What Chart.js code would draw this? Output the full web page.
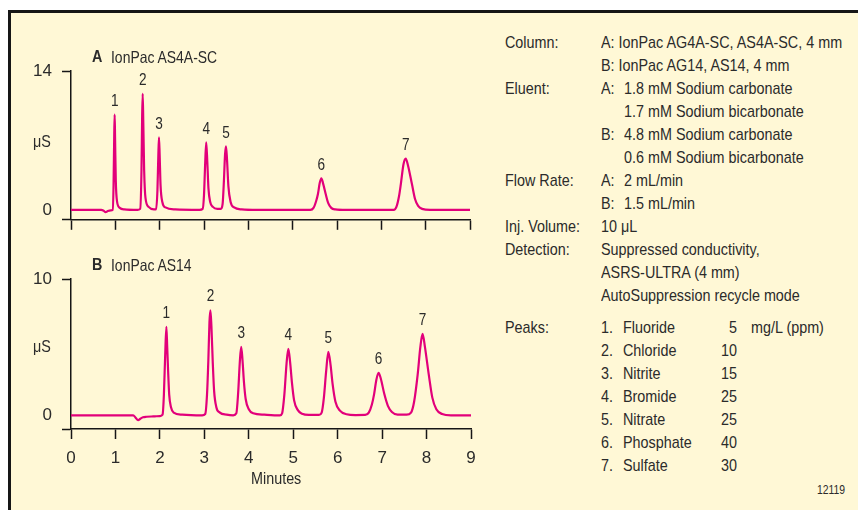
<!DOCTYPE html>
<html>
<head>
<meta charset="utf-8">
<script src="https://cdn.jsdelivr.net/npm/chart.js@4.4.1/dist/chart.umd.min.js"></script>
<style>
  html, body { margin: 0; padding: 0; background: #fff; }
  body { position: relative; width: 858px; height: 510px; overflow: hidden;
         font-family: 'Liberation Sans', Arial, sans-serif; color: #2b2b2b; }
  #frame { position: absolute; left: 8px; top: 10px; width: 900px; height: 560px; box-sizing: border-box;
           border-left: 3px solid #161616; border-top: 3px solid #161616; background: #fff8d6; }
  canvas { position: absolute; left: 0; }
  /* narrow look: regular sans squeezed sideways */
  .t { position: absolute; font-size: 17px; line-height: 20px; white-space: nowrap;
       transform: scaleX(0.845); transform-origin: 0 0; }
  .r { transform-origin: 100% 0; text-align: right; }
  .b { font-weight: bold; }
</style>
</head>
<body>
<div id="frame"></div>

<canvas id="chartA" width="500" height="240" style="top:0"></canvas>
<canvas id="chartB" width="500" height="270" style="top:240px"></canvas>

<!-- left side labels -->
<div class="t b" style="left:92px;top:47px">A</div>
<div class="t" style="left:111px;top:47px;font-size:16.5px">IonPac AS4A-SC</div>
<div class="t b" style="left:92px;top:255px">B</div>
<div class="t" style="left:111px;top:255px;font-size:16.5px">IonPac AS14</div>
<div class="t" style="left:33px;top:132px">&mu;S</div>
<div class="t" style="left:33px;top:337px">&mu;S</div>
<div class="t" style="left:251px;top:469px">Minutes</div>

<!-- conditions -->
<div class="t" style="left:505px;top:33px">Column:</div>
<div class="t" style="left:601px;top:33px">A: IonPac AG4A-SC, AS4A-SC, 4 mm</div>
<div class="t" style="left:601px;top:56px">B: IonPac AG14, AS14, 4 mm</div>
<div class="t" style="left:505px;top:79px">Eluent:</div>
<div class="t" style="left:601px;top:79px">A:</div>
<div class="t" style="left:624px;top:79px">1.8 mM Sodium carbonate</div>
<div class="t" style="left:624px;top:102px">1.7 mM Sodium bicarbonate</div>
<div class="t" style="left:601px;top:125px">B:</div>
<div class="t" style="left:624px;top:125px">4.8 mM Sodium carbonate</div>
<div class="t" style="left:624px;top:148px">0.6 mM Sodium bicarbonate</div>
<div class="t" style="left:505px;top:171px">Flow Rate:</div>
<div class="t" style="left:601px;top:171px">A:</div>
<div class="t" style="left:624px;top:171px">2 mL/min</div>
<div class="t" style="left:601px;top:194px">B:</div>
<div class="t" style="left:624px;top:194px">1.5 mL/min</div>
<div class="t" style="left:505px;top:217px">Inj. Volume:</div>
<div class="t" style="left:601px;top:217px">10 &mu;L</div>
<div class="t" style="left:505px;top:240px">Detection:</div>
<div class="t" style="left:601px;top:240px">Suppressed conductivity,</div>
<div class="t" style="left:601px;top:263px">ASRS-ULTRA (4 mm)</div>
<div class="t" style="left:601px;top:286px">AutoSuppression recycle mode</div>

<div class="t" style="left:505px;top:318px">Peaks:</div>
<div id="peakList"></div>
<div class="t" style="left:817px;top:480px;font-size:12.3px">12119</div>

<script>
// x axis (minutes)
const xTicks = [0, 1, 2, 3, 4, 5, 6, 7, 8, 9];

// peaks
const peakNumbers = ['1', '2', '3', '4', '5', '6', '7'];
const peakNames = ['Fluoride', 'Chloride', 'Nitrite', 'Bromide', 'Nitrate', 'Phosphate', 'Sulfate'];
const peakConc = [5, 10, 15, 25, 25, 40, 30];

// chromatogram A - IonPac AS4A-SC
const yTicksA = [0, 14];
const timesA = [0, 0.68, 0.74, 0.78, 0.83, 0.9, 0.94, 0.96, 0.975, 0.985, 0.995, 1.01, 1.04, 1.1, 1.2,
    1.5, 1.56, 1.59, 1.605, 1.617, 1.63, 1.65, 1.68, 1.75, 1.87,
    1.92, 1.95, 1.97, 1.985, 2.0, 2.02, 2.06, 2.13, 2.35,
    2.9, 2.97, 3.0, 3.025, 3.05, 3.075, 3.1, 3.14, 3.2, 3.3,
    3.38, 3.42, 3.45, 3.475, 3.497, 3.52, 3.55, 3.6, 3.68, 3.85,
    4.2, 5.4, 5.47, 5.53, 5.57, 5.61, 5.647, 5.69, 5.745, 5.8, 5.87, 5.96,
    6.2, 7.28, 7.34, 7.4, 7.44, 7.5, 7.55, 7.6, 7.69, 7.76, 7.83, 7.92, 8.1, 9];
const signalA = [0, 0, -0.1, -0.23, -0.12, -0.05, 0, 2.5, 7.5, 9.6, 7, 3, 0.8, 0.2, 0.05,
    0, 0.1, 4, 9.5, 11.7, 9, 4, 1.2, 0.3, 0.05,
    0.05, 2, 5.5, 7.3, 5.5, 2.5, 0.8, 0.25, 0.05,
    0, 0.1, 1.5, 4.5, 6.8, 4.8, 2.2, 0.8, 0.3, 0.1,
    0.1, 0.6, 3, 5.6, 6.4, 5, 2.4, 0.8, 0.25, 0.05,
    0, 0, 0.2, 0.9, 1.6, 2.7, 3.18, 2.6, 1.6, 0.7, 0.2, 0.05,
    0, 0, 0.3, 1.4, 2.6, 4.6, 5.16, 4.5, 2.6, 1.1, 0.4, 0.1, 0, 0];
const peakTimesA = [0.985, 1.617, 1.985, 3.05, 3.497, 5.647, 7.55];
const peakHeightsA = [9.6, 11.7, 7.3, 6.8, 6.4, 3.18, 5.16];

// chromatogram B - IonPac AS14
const yTicksB = [0, 10];
const timesB = [0, 1.4, 1.45, 1.51, 1.56, 1.62, 1.7, 1.85, 2.0,
    2.06, 2.09, 2.12, 2.146, 2.165, 2.185, 2.21, 2.25, 2.31, 2.5,
    2.95, 3.02, 3.06, 3.09, 3.115, 3.137, 3.16, 3.19, 3.22, 3.27, 3.35, 3.5,
    3.65, 3.72, 3.76, 3.8, 3.83, 3.86, 3.89, 3.93, 4.0, 4.1, 4.35,
    4.7, 4.75, 4.8, 4.85, 4.89, 4.93, 4.97, 5.02, 5.1, 5.2, 5.35,
    5.58, 5.64, 5.69, 5.74, 5.79, 5.84, 5.885, 5.95, 6.05, 6.2, 6.4,
    6.62, 6.7, 6.77, 6.82, 6.87, 6.92, 6.97, 7.05, 7.13, 7.22, 7.35,
    7.55, 7.65, 7.72, 7.8, 7.86, 7.91, 7.96, 8.05, 8.13, 8.22, 8.35, 8.55, 9];
const signalB = [0, 0, -0.15, -0.36, -0.25, -0.14, -0.1, -0.08, -0.05,
    0.05, 1.5, 4.5, 6.5, 5, 3.25, 1.5, 0.6, 0.2, 0.05,
    0, 0.1, 1.5, 4, 6.8, 7.7, 6.5, 3.85, 1.8, 0.6, 0.2, 0.05,
    0, 0.15, 1.6, 4, 5.02, 4, 2.5, 1.2, 0.45, 0.15, 0.05,
    0, 0.15, 1.5, 3.8, 4.88, 3.9, 2.44, 1.1, 0.4, 0.12, 0.03,
    0.03, 0.2, 1.3, 3.2, 4.66, 3.7, 2.33, 1.0, 0.35, 0.08, 0.02,
    0.03, 0.2, 0.8, 1.56, 2.6, 3.12, 2.7, 1.56, 0.7, 0.25, 0.06,
    0.05, 0.2, 1.0, 2.99, 5.0, 5.98, 5.1, 2.99, 1.3, 0.45, 0.1, 0, 0];
const peakTimesB = [2.146, 3.137, 3.83, 4.89, 5.79, 6.92, 7.91];
const peakHeightsB = [6.5, 7.7, 5.02, 4.88, 4.66, 3.12, 5.98];

const FONT = "'Liberation Sans', Arial, sans-serif";
const textColor = '#2b2b2b';
const axisColor = '#161616';
const traceColor = '#e2007a';

Chart.defaults.font.family = FONT;
Chart.defaults.color = textColor;

// peak list on the right
const peakList = document.getElementById('peakList');
peakNumbers.forEach((n, i) => {
    const top = 318 + i * 23;
    peakList.innerHTML +=
        `<div class="t" style="left:601px;top:${top}px">${n}.</div>
         <div class="t" style="left:623px;top:${top}px">${peakNames[i]}</div>
         <div class="t r" style="left:687px;top:${top}px;width:50px">${peakConc[i]}</div>`;
});
peakList.innerHTML += `<div class="t" style="left:751px;top:318px">mg/L (ppm)</div>`;

// numbers above the peaks
const peakLabels = {
    id: 'peakLabels',
    afterDatasetsDraw(chart, args, opts) {
        const ctx = chart.ctx;
        const xs = chart.scales.x;
        const ys = chart.scales.y;
        ctx.save();
        ctx.font = '16px ' + FONT;
        ctx.fillStyle = textColor;
        ctx.textAlign = 'center';
        ctx.textBaseline = 'middle';
        opts.times.forEach((t, i) => {
            ctx.save();
            ctx.translate(xs.getPixelForValue(t), ys.getPixelForValue(opts.heights[i]) - opts.gap);
            ctx.scale(0.85, 1);
            ctx.fillText(peakNumbers[i], 0, 0);
            ctx.restore();
        });
        ctx.restore();
    }
};

function makeChart(id, times, signal, yTicks, peakTimes, peakHeights, showLabels, padTop, xHeight, padRight, gap) {
    const yMin = -1;
    const yMax = yTicks[yTicks.length - 1];
    return new Chart(document.getElementById(id), {
        type: 'line',
        data: {
            datasets: [{
                data: times.map((t, i) => ({ x: t, y: signal[i] })),
                borderColor: traceColor,
                borderWidth: 2.2,
                pointRadius: 0,
                cubicInterpolationMode: 'monotone',
                fill: false
            }]
        },
        options: {
            responsive: false,
            animation: false,
            devicePixelRatio: 1,
            layout: { padding: { top: padTop, right: padRight, left: 0, bottom: 0 } },
            plugins: {
                legend: { display: false },
                tooltip: { enabled: false },
                peakLabels: { times: peakTimes, heights: peakHeights, gap: gap }
            },
            scales: {
                x: {
                    type: 'linear',
                    min: 0,
                    max: 9,
                    afterBuildTicks: (s) => { s.ticks = xTicks.map(v => ({ value: v })); },
                    ticks: { display: showLabels, padding: 9, color: textColor, font: { size: 17 } },
                    grid: { drawOnChartArea: false, drawTicks: true, tickLength: 10, tickColor: axisColor, tickWidth: 1.5 },
                    border: { color: axisColor, width: 1.5 },
                    afterFit: (s) => { s.height = xHeight; }
                },
                y: {
                    type: 'linear',
                    min: yMin,
                    max: yMax,
                    afterBuildTicks: (s) => { s.ticks = [yMin, ...yTicks].map(v => ({ value: v })); },
                    ticks: {
                        padding: 10,
                        color: textColor,
                        font: { size: 17 },
                        callback: (v) => v === yMin ? '' : v
                    },
                    grid: {
                        drawOnChartArea: false,
                        tickLength: 9,
                        tickWidth: 1.5,
                        tickColor: (c) => (c.tick && c.tick.value === 0) ? 'rgba(0,0,0,0)' : axisColor
                    },
                    border: { color: axisColor, width: 1.5 },
                    afterFit: (s) => { s.width = 71; }
                }
            }
        },
        plugins: [peakLabels]
    });
}

makeChart('chartA', timesA, signalA, yTicksA, peakTimesA, peakHeightsA, false, 71, 18, 30, 13);
makeChart('chartB', timesB, signalB, yTicksB, peakTimesB, peakHeightsB, true, 39, 81, 29, 13.5);
</script>
</body>
</html>
